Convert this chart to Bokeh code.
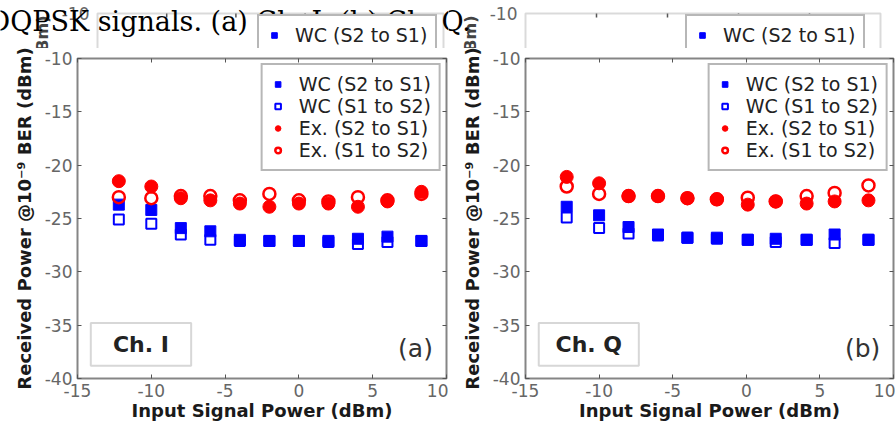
from bokeh.plotting import figure
from bokeh.models import Range1d, FixedTicker, LinearAxis, Legend, LegendItem, Label, BoxAnnotation
from bokeh.layouts import row, column
from bokeh.embed import file_html
from bokeh.resources import INLINE

# ---------------- data ----------------
x_ticks = [-15, -10, -5, 0, 5, 10]
y_ticks = [-40, -35, -30, -25, -20, -15, -10]
series_labels = ["WC (S2 to S1)", "WC (S1 to S2)", "Ex. (S2 to S1)", "Ex. (S1 to S2)"]

# panel (a) Ch. I
x_a = [-12.2, -10, -8, -6, -4, -2, 0, 2, 4, 6, 8.3]
wc21_a = [-23.7, -24.2, -25.9, -26.2, -27.0, -27.1, -27.1, -27.1, -26.9, -26.7, -27.1]
wc12_a = [-25.1, -25.5, -26.5, -27.0, -27.1, -27.1, -27.1, -27.2, -27.4, -27.2, -27.1]
ex21_a = [-21.5, -22.0, -23.1, -23.3, -23.6, -23.9, -23.6, -23.6, -23.9, -23.4, -22.5]
ex12_a = [-23.0, -23.1, -22.9, -22.9, -23.3, -22.7, -23.3, -23.4, -23.0, -23.3, -22.7]

# panel (b) Ch. Q
x_b = [-12.2, -10, -8, -6, -4, -2, 0.1, 2, 4.1, 6, 8.3]
wc21_b = [-23.9, -24.7, -25.8, -26.5, -26.8, -26.8, -27.0, -26.9, -27.0, -26.5, -27.0]
wc12_b = [-24.9, -25.9, -26.4, -26.6, -26.8, -26.9, -27.0, -27.2, -27.0, -27.3, -27.0]
ex21_b = [-21.1, -21.7, -22.9, -22.9, -23.1, -23.2, -23.7, -23.4, -23.6, -23.4, -23.3]
ex12_b = [-22.0, -22.7, -22.9, -22.9, -23.1, -23.2, -23.05, -23.4, -22.9, -22.6, -21.9]

caption = "DQPSK signals. (a) Ch. I. (b) Ch. Q."
x_label = "Input Signal Power (dBm)"
y_label = "Received Power @10\u207b\u2079 BER (dBm)"

BLUE = "#0000ff"
RED = "#ff0000"
FRAME = "#858585"
TICK = "#555555"
SANS = "DejaVu Sans"
SERIF = "DejaVu Serif"


def add_series(p, xs, wc21, wc12, ex21, ex12):
    r1 = p.scatter(xs, wc21, marker="square", size=11, fill_color=BLUE, line_color=BLUE)
    r2 = p.scatter(xs, wc12, marker="square", size=10, fill_color=None, line_color=BLUE, line_width=2)
    r3 = p.scatter(xs, ex21, marker="circle", size=13, fill_color=RED, line_color=RED)
    r4 = p.scatter(xs, ex12, marker="circle", size=12, fill_color=None, line_color=RED, line_width=2.5)
    return [r1, r2, r3, r4]


def make_legend(rs, font_size, location, margin=5):
    return Legend(items=[LegendItem(label=l, renderers=[r]) for l, r in zip(series_labels, rs)],
                  location=location, margin=margin, padding=8, spacing=0,
                  glyph_width=14, glyph_height=20, label_height=20, label_standoff=14,
                  label_text_font=SANS, label_text_font_size=font_size, label_text_color="#222222",
                  border_line_color="#707070", border_line_width=2,
                  background_fill_color="white", background_fill_alpha=1.0)


def mirror_axes(p):
    for loc in ("above", "right"):
        ax = LinearAxis(ticker=FixedTicker(ticks=x_ticks if loc == "above" else y_ticks))
        ax.major_label_text_font_size = "0px"
        ax.major_label_standoff = 0
        ax.major_tick_in = 4
        ax.major_tick_out = 0
        ax.minor_tick_line_color = None
        ax.major_tick_line_color = TICK
        ax.axis_line_color = None
        p.add_layout(ax, loc)


def main_panel(width, xs, wc21, wc12, ex21, ex12, ch_text, tag):
    p = figure(width=width, height=377, x_range=Range1d(-15, 10), y_range=Range1d(-40, -10),
               output_backend="svg", toolbar_location=None,
               min_border_left=77, min_border_right=2, min_border_top=10, min_border_bottom=47)
    p.grid.visible = False
    p.outline_line_color = FRAME
    p.outline_line_width = 2
    p.background_fill_color = "white"
    p.border_fill_color = "white"
    for ax, ticks in ((p.xaxis[0], x_ticks), (p.yaxis[0], y_ticks)):
        ax.ticker = FixedTicker(ticks=ticks)
        ax.major_label_overrides = {t: str(t) for t in ticks}
        ax.major_tick_in = 4
        ax.major_tick_out = 0
        ax.minor_tick_line_color = None
        ax.major_tick_line_color = TICK
        ax.axis_line_color = None
        ax.major_label_text_font = SANS
        ax.major_label_text_font_size = "17px"
        ax.major_label_text_color = "#666666"
        ax.major_label_standoff = 5
        ax.axis_label_text_font = SANS
        ax.axis_label_text_font_style = "bold"
        ax.axis_label_text_font_size = "18px"
        ax.axis_label_text_color = "#1a1a1a"
    p.xaxis[0].axis_label = x_label
    p.xaxis[0].axis_label_standoff = 0
    p.yaxis[0].axis_label = y_label
    p.yaxis[0].axis_label_standoff = 7
    mirror_axes(p)

    rs = add_series(p, xs, wc21, wc12, ex21, ex12)
    p.add_layout(make_legend(rs, "19px", "top_right", 5))

    p.add_layout(BoxAnnotation(left=-14.1, right=-7.3, top=-34.8, bottom=-38.8,
                               fill_color="white", fill_alpha=1.0,
                               line_color="#7a7a7a", line_width=2))
    p.add_layout(Label(x=-10.7, y=-36.85, text=ch_text, text_align="center", text_baseline="middle",
                       text_font=SANS, text_font_style="bold", text_font_size="22px",
                       text_color="#222222"))
    p.add_layout(Label(x=7.9, y=-37.2, text=tag, text_align="center", text_baseline="middle",
                       text_font=SANS, text_font_size="25px", text_color="#333333"))
    return p


def ghost_panel(width, frame_left, frame_right, cap_shift):
    # the strip at the top shows the cut-off top of another copy of the figure;
    # its frame fills the whole canvas, the inner plot box is drawn as annotations
    H = 48
    top = 13
    sx = (frame_right - frame_left) / 25.0
    sy = 10.6
    xr = Range1d(-15 - frame_left / sx, 10 + (width - frame_right) / sx)
    y_end = -10 + top / sy
    yr = Range1d(y_end - H / sy, y_end)
    g = figure(width=width, height=H, x_range=xr, y_range=yr,
               output_backend="svg", toolbar_location=None,
               x_axis_location=None, y_axis_location=None,
               min_border=0, min_border_left=0, min_border_right=0,
               min_border_top=0, min_border_bottom=0)
    g.grid.visible = False
    g.outline_line_color = None
    g.background_fill_color = "white"
    g.border_fill_color = "white"
    # plot box (its bottom lies below the strip)
    g.add_layout(BoxAnnotation(left=-15, right=10, top=-10, bottom=-40,
                               fill_alpha=0, line_color=FRAME, line_width=2))
    # top tick marks
    g.segment(x0=x_ticks[1:-1], y0=[-10] * 4, x1=x_ticks[1:-1], y1=[-10 - 4 / sy] * 4,
              line_color=TICK, line_width=1.5)
    rs = add_series(g, x_a, wc21_a, wc12_a, ex21_a, ex12_a)
    g.add_layout(make_legend(rs, "19px", (frame_left + 160, -74)))
    # y tick label "-10"
    g.add_layout(Label(x=-15, y=-10, x_offset=-8, text="-10",
                       text_align="right", text_baseline="middle",
                       text_font=SANS, text_font_size="17px", text_color="#666666"))
    # top end of the rotated y-axis title
    g.add_layout(Label(x=-15, y=-10 - 2 / sy, x_offset=-55, text=y_label,
                       angle=90, angle_units="deg", text_align="right", text_baseline="middle",
                       text_font=SANS, text_font_style="bold", text_font_size="16px",
                       text_color="#444444"))
    # caption of the page, drawn over the strip
    g.add_layout(Label(x=-15, y=-10 - 8 / sy, x_offset=cap_shift, text=caption,
                       text_font=SERIF, text_font_size="27px", text_color="black",
                       text_baseline="alphabetic"))
    return g


gL = ghost_panel(448, 97, 443, -12 - 97)
gR = ghost_panel(447, 77, 432, -12 - 448 - 77)
mL = main_panel(448, x_a, wc21_a, wc12_a, ex21_a, ex12_a, "Ch. I", "(a)")
mR = main_panel(447, x_b, wc21_b, wc12_b, ex21_b, ex12_b, "Ch. Q", "(b)")

layout = column(row(gL, gR, spacing=0), row(mL, mR, spacing=0), spacing=0)

open("out.html", "w").write(file_html(layout, INLINE))
